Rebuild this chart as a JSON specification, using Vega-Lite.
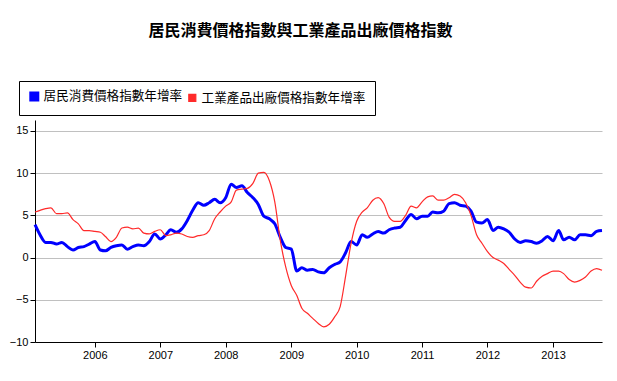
{
  "$schema": "https://vega.github.io/schema/vega-lite/v6.json",
  "autosize": "none",
  "width": 567,
  "height": 222,
  "padding": {"left": 35, "top": 120, "right": 15, "bottom": 39},
  "background": "white",
  "title": {
    "text": "居民消費價格指數與工業產品出廠價格指數",
    "font": "Noto Sans CJK TC",
    "fontSize": 16,
    "fontWeight": "bold",
    "color": "black",
    "anchor": "middle",
    "frame": "group",
    "dx": -18,
    "offset": 42
  },
  "config": {"view": {"stroke": null}},
  "data": {
    "values": [
      {"m":"2005-02-01","cpi":3.9,"ppi":5.4},{"m":"2005-03-01","cpi":2.7,"ppi":5.6},{"m":"2005-04-01","cpi":1.8,"ppi":5.8},{"m":"2005-05-01","cpi":1.8,"ppi":5.9},{"m":"2005-06-01","cpi":1.6,"ppi":5.2},{"m":"2005-07-01","cpi":1.8,"ppi":5.2},{"m":"2005-08-01","cpi":1.3,"ppi":5.3},{"m":"2005-09-01","cpi":0.9,"ppi":4.5},{"m":"2005-10-01","cpi":1.2,"ppi":4.0},{"m":"2005-11-01","cpi":1.3,"ppi":3.2},{"m":"2005-12-01","cpi":1.6,"ppi":3.2},
      {"m":"2006-01-01","cpi":1.9,"ppi":3.1},{"m":"2006-02-01","cpi":0.9,"ppi":3.0},{"m":"2006-03-01","cpi":0.8,"ppi":2.5},{"m":"2006-04-01","cpi":1.2,"ppi":1.9},{"m":"2006-05-01","cpi":1.4,"ppi":2.4},{"m":"2006-06-01","cpi":1.5,"ppi":3.5},{"m":"2006-07-01","cpi":1.0,"ppi":3.6},{"m":"2006-08-01","cpi":1.3,"ppi":3.4},{"m":"2006-09-01","cpi":1.5,"ppi":3.5},{"m":"2006-10-01","cpi":1.4,"ppi":2.9},{"m":"2006-11-01","cpi":1.9,"ppi":2.8},{"m":"2006-12-01","cpi":2.8,"ppi":3.1},
      {"m":"2007-01-01","cpi":2.2,"ppi":3.3},{"m":"2007-02-01","cpi":2.7,"ppi":2.6},{"m":"2007-03-01","cpi":3.3,"ppi":2.7},{"m":"2007-04-01","cpi":3.0,"ppi":2.9},{"m":"2007-05-01","cpi":3.4,"ppi":2.8},{"m":"2007-06-01","cpi":4.4,"ppi":2.5},{"m":"2007-07-01","cpi":5.6,"ppi":2.4},{"m":"2007-08-01","cpi":6.5,"ppi":2.6},{"m":"2007-09-01","cpi":6.2,"ppi":2.7},{"m":"2007-10-01","cpi":6.5,"ppi":3.2},{"m":"2007-11-01","cpi":6.9,"ppi":4.6},{"m":"2007-12-01","cpi":6.5,"ppi":5.4},
      {"m":"2008-01-01","cpi":7.1,"ppi":6.1},{"m":"2008-02-01","cpi":8.7,"ppi":6.6},{"m":"2008-03-01","cpi":8.3,"ppi":8.0},{"m":"2008-04-01","cpi":8.5,"ppi":8.1},{"m":"2008-05-01","cpi":7.7,"ppi":8.2},{"m":"2008-06-01","cpi":7.1,"ppi":8.8},{"m":"2008-07-01","cpi":6.3,"ppi":10.0},{"m":"2008-08-01","cpi":4.9,"ppi":10.1},{"m":"2008-09-01","cpi":4.6,"ppi":9.1},{"m":"2008-10-01","cpi":4.0,"ppi":6.6},{"m":"2008-11-01","cpi":2.4,"ppi":2.0},{"m":"2008-12-01","cpi":1.2,"ppi":-1.1},
      {"m":"2009-01-01","cpi":1.0,"ppi":-3.3},{"m":"2009-02-01","cpi":-1.6,"ppi":-4.5},{"m":"2009-03-01","cpi":-1.2,"ppi":-6.0},{"m":"2009-04-01","cpi":-1.5,"ppi":-6.6},{"m":"2009-05-01","cpi":-1.4,"ppi":-7.2},{"m":"2009-06-01","cpi":-1.7,"ppi":-7.8},{"m":"2009-07-01","cpi":-1.8,"ppi":-8.2},{"m":"2009-08-01","cpi":-1.2,"ppi":-7.9},{"m":"2009-09-01","cpi":-0.8,"ppi":-7.0},{"m":"2009-10-01","cpi":-0.5,"ppi":-5.8},{"m":"2009-11-01","cpi":0.6,"ppi":-2.1},{"m":"2009-12-01","cpi":1.9,"ppi":1.7},
      {"m":"2010-01-01","cpi":1.5,"ppi":4.3},{"m":"2010-02-01","cpi":2.7,"ppi":5.4},{"m":"2010-03-01","cpi":2.4,"ppi":5.9},{"m":"2010-04-01","cpi":2.8,"ppi":6.8},{"m":"2010-05-01","cpi":3.1,"ppi":7.1},{"m":"2010-06-01","cpi":2.9,"ppi":6.4},{"m":"2010-07-01","cpi":3.3,"ppi":4.8},{"m":"2010-08-01","cpi":3.5,"ppi":4.3},{"m":"2010-09-01","cpi":3.6,"ppi":4.3},{"m":"2010-10-01","cpi":4.4,"ppi":5.0},{"m":"2010-11-01","cpi":5.1,"ppi":6.1},{"m":"2010-12-01","cpi":4.6,"ppi":5.9},
      {"m":"2011-01-01","cpi":4.9,"ppi":6.6},{"m":"2011-02-01","cpi":4.9,"ppi":7.2},{"m":"2011-03-01","cpi":5.4,"ppi":7.3},{"m":"2011-04-01","cpi":5.3,"ppi":6.8},{"m":"2011-05-01","cpi":5.5,"ppi":6.8},{"m":"2011-06-01","cpi":6.4,"ppi":7.1},{"m":"2011-07-01","cpi":6.5,"ppi":7.5},{"m":"2011-08-01","cpi":6.2,"ppi":7.3},{"m":"2011-09-01","cpi":6.1,"ppi":6.5},{"m":"2011-10-01","cpi":5.5,"ppi":5.0},{"m":"2011-11-01","cpi":4.2,"ppi":2.7},{"m":"2011-12-01","cpi":4.1,"ppi":1.7},
      {"m":"2012-01-01","cpi":4.5,"ppi":0.7},{"m":"2012-02-01","cpi":3.2,"ppi":0.0},{"m":"2012-03-01","cpi":3.6,"ppi":-0.3},{"m":"2012-04-01","cpi":3.4,"ppi":-0.7},{"m":"2012-05-01","cpi":3.0,"ppi":-1.4},{"m":"2012-06-01","cpi":2.2,"ppi":-2.1},{"m":"2012-07-01","cpi":1.8,"ppi":-2.9},{"m":"2012-08-01","cpi":2.0,"ppi":-3.5},{"m":"2012-09-01","cpi":1.9,"ppi":-3.6},{"m":"2012-10-01","cpi":1.7,"ppi":-2.8},{"m":"2012-11-01","cpi":2.0,"ppi":-2.2},{"m":"2012-12-01","cpi":2.5,"ppi":-1.9},
      {"m":"2013-01-01","cpi":2.0,"ppi":-1.6},{"m":"2013-02-01","cpi":3.2,"ppi":-1.6},{"m":"2013-03-01","cpi":2.1,"ppi":-1.9},{"m":"2013-04-01","cpi":2.4,"ppi":-2.6},{"m":"2013-05-01","cpi":2.1,"ppi":-2.9},{"m":"2013-06-01","cpi":2.7,"ppi":-2.7},{"m":"2013-07-01","cpi":2.7,"ppi":-2.3},{"m":"2013-08-01","cpi":2.6,"ppi":-1.6},{"m":"2013-09-01","cpi":3.1,"ppi":-1.3},{"m":"2013-10-01","cpi":3.2,"ppi":-1.5}
    ]
  },
  "transform": [
    {"fold": ["cpi", "ppi"], "as": ["series", "v"]}
  ],
  "mark": {"type": "line", "interpolate": "monotone", "clip": false},
  "encoding": {
    "x": {
      "field": "m",
      "type": "temporal",
      "scale": {"type": "utc", "domain": ["2005-02-01", "2013-10-01"], "nice": false},
      "axis": {
        "title": null,
        "grid": false,
        "format": "%Y",
        "formatType": "utc",
        "tickCount": {"interval": "year", "step": 1},
        "domainColor": "black",
        "tickColor": "black",
        "tickSize": 5,
        "labelFont": "Liberation Sans",
        "labelFontSize": 11,
        "labelColor": "black",
        "labelPadding": 2,
        "labelFlush": false
      }
    },
    "y": {
      "field": "v",
      "type": "quantitative",
      "scale": {"domain": [-10, 16.3], "nice": false, "zero": false},
      "axis": {
        "title": null,
        "values": [-10, -5, 0, 5, 10, 15],
        "grid": true,
        "gridColor": "#c0c0c0",
        "gridWidth": 1,
        "domainColor": "black",
        "tickColor": "black",
        "tickSize": 5,
        "labelFont": "Liberation Sans",
        "labelFontSize": 11,
        "labelColor": "black",
        "labelPadding": 2
      }
    },
    "color": {
      "field": "series",
      "type": "nominal",
      "scale": {"domain": ["cpi", "ppi"], "range": ["#0000ff", "#ff2a2a"]},
      "legend": {
        "title": null,
        "orient": "none",
        "legendX": -16,
        "legendY": -39,
        "direction": "horizontal",
        "strokeColor": "black",
        "fillColor": "white",
        "padding": 9,
        "symbolType": "square",
        "symbolSize": 49,
        "symbolStrokeWidth": 1,
        "labelFont": "Noto Sans CJK TC",
        "labelFontSize": 12.6,
        "labelColor": "black",
        "labelOffset": 3,
        "labelLimit": 400,
        "columnPadding": 3,
        "labelExpr": "datum.value == 'cpi' ? '居民消費價格指數年增率' : '工業產品出廠價格指數年增率'",
        "encode": {
          "symbols": {
            "update": {
              "fill": {"scale": "color", "field": "value"},
              "stroke": {"value": "black"},
              "strokeWidth": {"value": 1},
              "opacity": {"value": 1}
            }
          }
        }
      }
    },
    "strokeWidth": {
      "field": "series",
      "type": "nominal",
      "scale": {"domain": ["cpi", "ppi"], "range": [3, 1.2]},
      "legend": null
    }
  }
}
